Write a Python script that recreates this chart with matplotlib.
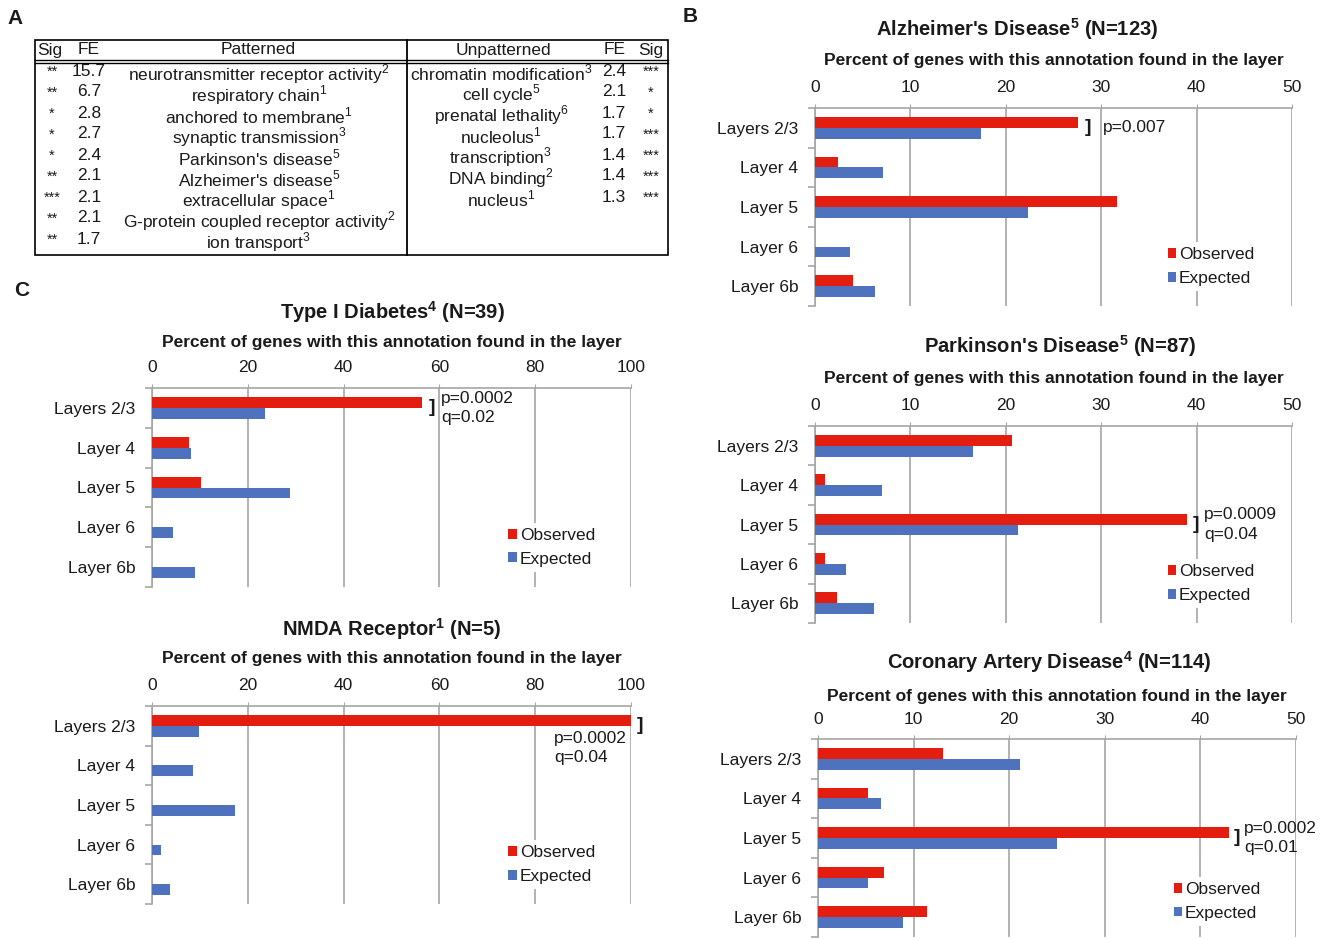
import matplotlib
matplotlib.use('Agg')
import matplotlib.pyplot as plt
from matplotlib.patches import Patch, Rectangle

plt.rcParams['font.family'] = ['Liberation Sans', 'DejaVu Sans']
plt.rcParams['mathtext.fontset'] = 'custom'
plt.rcParams['mathtext.rm'] = 'Liberation Sans'
plt.rcParams['mathtext.bf'] = 'Liberation Sans:bold'
plt.rcParams['text.color'] = '#1a1a1a'

W, H = 1331, 939
RED = '#E31E10'
BLUE = '#4F72BE'
GRID = '#A6A6A6'
TXT = '#1a1a1a'

# ---- panel A table ----
pat_sig = ['**', '**', '*', '*', '*', '**', '***', '**', '**']
pat_fe = ['15.7', '6.7', '2.8', '2.7', '2.4', '2.1', '2.1', '2.1', '1.7']
pat_terms = ['neurotransmitter receptor activity$^{2}$', 'respiratory chain$^{1}$',
             'anchored to membrane$^{1}$', 'synaptic transmission$^{3}$',
             "Parkinson's disease$^{5}$", "Alzheimer's disease$^{5}$",
             'extracellular space$^{1}$', 'G-protein coupled receptor activity$^{2}$',
             'ion transport$^{3}$']
unp_terms = ['chromatin modification$^{3}$', 'cell cycle$^{5}$',
             'prenatal lethality$^{6}$', 'nucleolus$^{1}$', 'transcription$^{3}$',
             'DNA binding$^{2}$', 'nucleus$^{1}$']
unp_fe = ['2.4', '2.1', '1.7', '1.7', '1.4', '1.4', '1.3']
unp_sig = ['***', '*', '*', '***', '***', '***', '***']

# ---- panels B and C ----
layers = ['Layers 2/3', 'Layer 4', 'Layer 5', 'Layer 6', 'Layer 6b']

alz_obs = [27.6, 2.4, 31.7, 0, 4.0]
alz_exp = [17.4, 7.1, 22.3, 3.7, 6.3]
park_obs = [20.7, 1.1, 39.0, 1.1, 2.3]
park_exp = [16.6, 7.0, 21.3, 3.3, 6.2]
cad_obs = [13.1, 5.2, 43.0, 6.9, 11.4]
cad_exp = [21.1, 6.6, 25.0, 5.2, 8.9]
t1d_obs = [56.4, 7.7, 10.3, 0, 0]
t1d_exp = [23.5, 8.2, 28.8, 4.3, 9.0]
nmda_obs = [100, 0, 0, 0, 0]
nmda_exp = [9.8, 8.6, 17.3, 1.8, 3.75]

xlabel = 'Percent of genes with this annotation found in the layer'

fig = plt.figure(figsize=(W / 100, H / 100), dpi=100)


def box(x0, y0, x1, y1):
    return fig.add_axes([x0 / W, 1 - y1 / H, (x1 - x0) / W, (y1 - y0) / H])


def off(ax, xf, yf, dx, dy, s, **kw):
    # text placed at axes fraction, shifted by pixels
    return ax.annotate(s, xy=(xf, yf), xycoords='axes fraction',
                       xytext=(dx * 0.72, dy * 0.72), textcoords='offset points',
                       annotation_clip=False, **kw)


def panel(rect, title, title_x, obs, exp, xmax, step, sig_i, note, leg_xy,
          dy=(79, 47), note_dx=(9, 17), note_below=False):
    ax = box(*rect)
    y = list(range(len(layers)))
    h = 0.275
    ax.barh([v - h / 2 for v in y], obs, height=h, color=RED, zorder=3)
    ax.barh([v + h / 2 for v in y], exp, height=h, color=BLUE, zorder=3)
    ax.set_xlim(0, xmax)
    ax.set_ylim(len(layers) - 0.5, -0.5)
    ax.set_xticks(range(0, xmax + 1, step))
    ax.xaxis.tick_top()
    ax.tick_params(axis='x', length=3, color=GRID, pad=6, labelsize=12.5,
                   labelcolor=TXT)
    ax.set_yticks(y)
    ax.set_yticklabels(layers)
    ax.set_yticks([v - 0.5 for v in range(len(layers) + 1)], minor=True)
    ax.tick_params(axis='y', which='major', length=0, pad=12, labelsize=12.5,
                   labelcolor=TXT)
    ax.tick_params(axis='y', which='minor', length=5, color=GRID, width=1.2)
    ax.grid(axis='x', color=GRID, linewidth=1.2, zorder=0)
    ax.set_axisbelow(True)
    for s in ['right', 'bottom']:
        ax.spines[s].set_visible(False)
    for s in ['left', 'top']:
        ax.spines[s].set_color(GRID)
        ax.spines[s].set_linewidth(1.2)

    off(ax, title_x, 1, 0, dy[0], title, ha='center', va='center',
        fontsize=14.5, fontweight='bold')
    off(ax, 0.5, 1, 0, dy[1], xlabel, ha='center', va='center',
        fontsize=12.5, fontweight='bold')

    xe = obs[sig_i]
    ax.annotate(']', xy=(xe, sig_i), xytext=(note_dx[0] * 0.72, 0),
                textcoords='offset points', ha='center', va='center',
                fontsize=14, fontweight='heavy', annotation_clip=False)
    if note_below:
        ax.annotate(note, xy=(xe, sig_i), xytext=(-4 * 0.72, -22 * 0.72),
                    textcoords='offset points', ha='right', va='center',
                    multialignment='left', fontsize=12.5, linespacing=1.35,
                    annotation_clip=False)
    else:
        ax.annotate(note, xy=(xe, sig_i), xytext=(note_dx[1] * 0.72, 0),
                    textcoords='offset points', ha='left', va='center',
                    fontsize=12.5, linespacing=1.35, annotation_clip=False)

    handles = [Patch(facecolor=RED), Patch(facecolor=BLUE)]
    leg = ax.legend(handles, ['Observed', 'Expected'], loc='center left',
                    bbox_to_anchor=leg_xy, fontsize=12.5, handlelength=0.5,
                    handleheight=0.5, handletextpad=0.15, labelspacing=0.5,
                    borderpad=0.3, frameon=True, fancybox=False)
    leg.get_frame().set_facecolor('white')
    leg.get_frame().set_edgecolor('none')
    leg.get_frame().set_alpha(1)
    return ax


panel((815, 108, 1292, 306), "Alzheimer's Disease$^{\\mathbf{5}}$ (N=123)", 0.423,
      alz_obs, alz_exp, 50, 10, 0, 'p=0.007', (0.71, 0.20), note_dx=(10, 25))
panel((815, 426, 1292, 623), "Parkinson's Disease$^{\\mathbf{5}}$ (N=87)", 0.513,
      park_obs, park_exp, 50, 10, 2, 'p=0.0009\nq=0.04', (0.71, 0.20),
      dy=(80, 47), note_dx=(9, 17))
panel((818, 739, 1296, 937), 'Coronary Artery Disease$^{\\mathbf{4}}$ (N=114)', 0.483,
      cad_obs, cad_exp, 50, 10, 2, 'p=0.0002\nq=0.01', (0.715, 0.18),
      dy=(77, 43), note_dx=(8, 15))
panel((152, 388, 631, 587), 'Type I Diabetes$^{\\mathbf{4}}$ (N=39)', 0.503,
      t1d_obs, t1d_exp, 100, 20, 0, 'p=0.0002\nq=0.02', (0.715, 0.20),
      dy=(76, 46), note_dx=(10, 19))
panel((152, 706, 631, 904), 'NMDA Receptor$^{\\mathbf{1}}$ (N=5)', 0.50,
      nmda_obs, nmda_exp, 100, 20, 0, 'p=0.0002\nq=0.04', (0.715, 0.20),
      dy=(77, 47), note_dx=(9, 0), note_below=True)

# ---- table (pixel coordinates) ----
tax = box(0, 0, 680, 270)
tax.set_xlim(0, 680)
tax.set_ylim(270, 0)
tax.axis('off')
tax.add_patch(Rectangle((35, 40), 633, 215, fill=False, ec='black', lw=1.2))
tax.plot([35, 668], [59.5, 59.5], color='black', lw=1)
tax.plot([35, 668], [62.5, 62.5], color='black', lw=1)
tax.plot([407, 407], [40, 255], color='black', lw=1.3)
fs = 12.5
for x, s in [(50, 'Sig'), (89, 'FE'), (258, 'Patterned'), (503, 'Unpatterned'),
             (615, 'FE'), (651, 'Sig')]:
    tax.text(x, 50, s, ha='center', va='center', fontsize=fs)
for i, (sg, fe, t) in enumerate(zip(pat_sig, pat_fe, pat_terms)):
    tax.text(52, 72 + i * 21, sg, ha='center', va='center', fontsize=10.5)
    tax.text(89, 71 + i * 21, fe, ha='center', va='center', fontsize=fs)
    tax.text(259, 74 + i * 21, t, ha='center', va='center', fontsize=fs)
for i, (t, fe, sg) in enumerate(zip(unp_terms, unp_fe, unp_sig)):
    tax.text(501, 73 + i * 21, t, ha='center', va='center', fontsize=fs)
    tax.text(614, 71 + i * 21, fe, ha='center', va='center', fontsize=fs)
    tax.text(651, 72 + i * 21, sg, ha='center', va='center', fontsize=10.5)

fig.text(15 / W, 1 - 18 / H, 'A', ha='center', va='center', fontsize=15,
         fontweight='bold')
fig.text(690 / W, 1 - 17 / H, 'B', ha='center', va='center', fontsize=15,
         fontweight='bold')
fig.text(22 / W, 1 - 290 / H, 'C', ha='center', va='center', fontsize=15,
         fontweight='bold')

fig.savefig('out.png', dpi=100)
